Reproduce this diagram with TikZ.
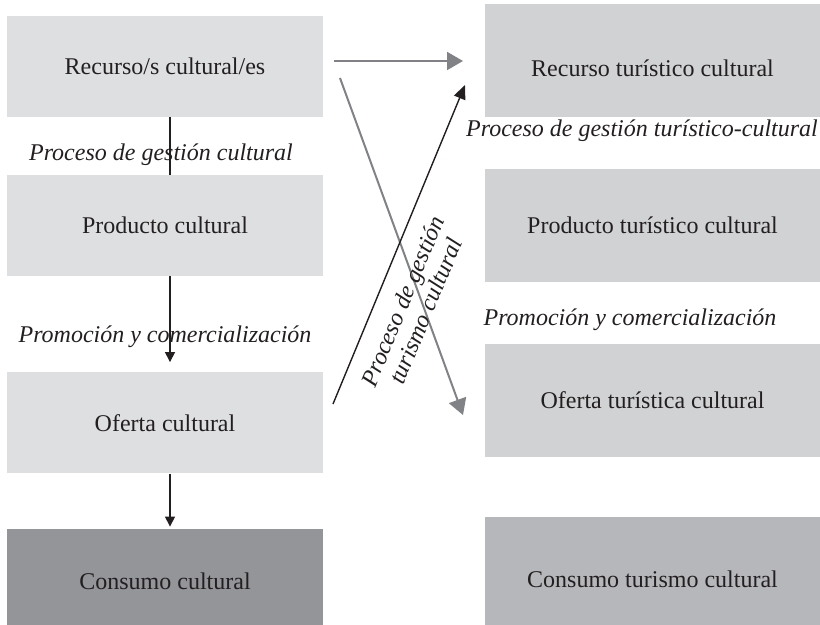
\documentclass[tikz,border=0pt]{standalone}
\usepackage{fontspec}
\setmainfont{Liberation Serif}
\usetikzlibrary{arrows.meta}

\definecolor{boxlight}{HTML}{DEDFE1}
\definecolor{boxdark}{HTML}{939598}
\definecolor{tourlight}{HTML}{D1D2D4}
\definecolor{tourdark}{HTML}{B6B7BA}
\definecolor{arrgray}{HTML}{808285}
\definecolor{ink}{HTML}{231F20}

\tikzset{cbox/.style={fill=boxlight,minimum width=158pt,minimum height=50.5pt,inner sep=0pt,text=ink,font=\fontsize{12}{14}\selectfont},
         tbox/.style={cbox,fill=tourlight,minimum width=167.5pt,minimum height=56.5pt},
         plabel/.style={text=ink,font=\fontsize{12}{14}\selectfont\itshape},
         flow/.style={draw=ink,line width=0.6pt,-{Triangle[length=5pt,width=5pt]}},
         xflow/.style={draw=ink,fill=ink,line width=0.7pt,-{Triangle[length=7pt,width=6pt]}},
         gflow/.style={draw=arrgray,fill=arrgray,line width=1pt,-{Triangle[length=8pt,width=9pt]}}}

\begin{document}
\begin{tikzpicture}[x=0.5pt,y=-0.5pt]
        \useasboundingbox (0,0) rectangle (820,625);
        % cultural chain (left)
        \node[cbox] (rc) at (165,66.5) {Recurso/s cultural/es};
        \node[cbox] (pc) at (165,225.5) {Producto cultural};
        \node[cbox] (oc) at (165,423) {Oferta cultural};
        \node[cbox,fill=boxdark,minimum height=48pt,text height=12.5pt] (cc) at (165,577) {Consumo cultural};
        % tourist chain (right)
        \node[tbox,text height=16pt] (rt) at (652.5,61) {Recurso turístico cultural};
        \node[tbox] (pt) at (652.5,225.5) {Producto turístico cultural};
        \node[tbox] (ot) at (652.5,400.5) {Oferta turística cultural};
        \node[tbox,fill=tourdark,minimum height=54pt,text height=16.5pt] (ct) at (652.5,571) {Consumo turismo cultural};
        % process labels
        \node[plabel] (lg1) at (161,155) {Proceso de gestión cultural};
        \node[plabel] (lp1) at (165,337) {Promoción y comercialización};
        \node[plabel] (lg2) at (642,131) {Proceso de gestión turístico-cultural};
        \node[plabel] (lp2) at (630,320) {Promoción y comercialización};
        % vertical links
        \draw[draw=ink,line width=0.6pt] ([xshift=2.5pt]rc.south) -- ([xshift=2.5pt]pc.north);
        \draw[flow] ([xshift=2.5pt]pc.south) -- ([xshift=2.5pt,yshift=5pt]oc.north);
        \draw[flow] ([xshift=2.5pt]oc.south) -- ([xshift=2.5pt,yshift=1pt]cc.north);
        % crossing links
        \coordinate (h0) at (334,61);
        \coordinate (h1) at (463,61);
        \coordinate (g0) at (340,78);
        \coordinate (g1) at (463,415);
        \coordinate (b0) at (333,404);
        \coordinate (b1) at (465,85);
        \draw[gflow] (h0) -- (h1);
        \draw[gflow] (g0) -- (g1);
        \draw[xflow] (b0) -- (b1);
        \node[plabel,rotate=67.5,align=center,font=\fontsize{12}{12.5}\selectfont\itshape] (lx) at (414,306) {Proceso de gestión\\turismo cultural};
    \end{tikzpicture}
\end{document}
